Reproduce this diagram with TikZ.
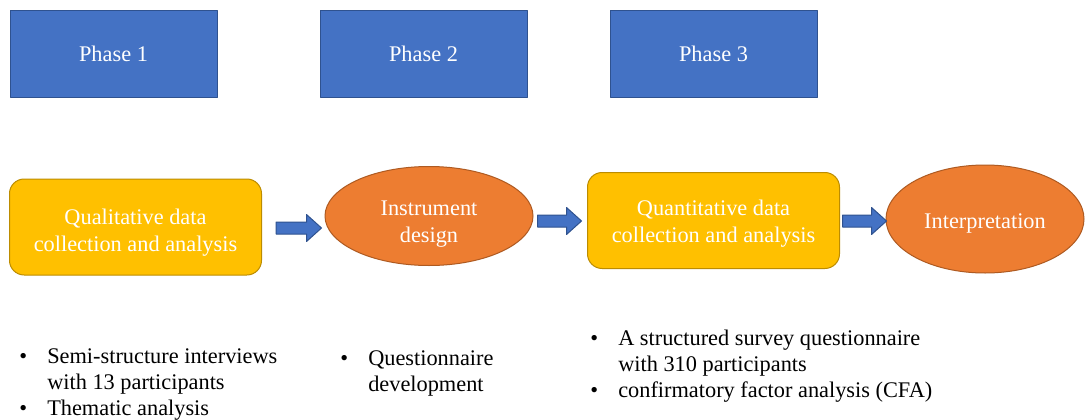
\documentclass[tikz,border=0pt]{standalone}
\usepackage{fontspec}
\setmainfont{Liberation Serif}
\usetikzlibrary{calc,shapes.geometric}

\definecolor{phaseblue}{HTML}{4472C4}
\definecolor{phaseedge}{HTML}{2F528F}
\definecolor{stepyellow}{HTML}{FFC000}
\definecolor{yellowedge}{HTML}{BC8C00}
\definecolor{steporange}{HTML}{ED7D31}
\definecolor{orangeedge}{HTML}{AE5A21}

% fat block arrow from #1 to the tip #2 (both on one level)
\newcommand{\blockarrow}[2]{%
  \draw[barrow] ($(#1)+(0,6)$) -- ($(#2)+(-15,6)$) -- ($(#2)+(-15,13.5)$) -- (#2)
    -- ($(#2)+(-15,-13.5)$) -- ($(#2)+(-15,-6)$) -- ($(#1)+(0,-6)$) -- cycle;}
% step label: first baseline sits #1 above the node centre
\newcommand{\steptext}[2]{%
  \raisebox{#1}[0pt][0pt]{\begin{tabular}[t]{@{}c@{}}#2\end{tabular}}}
\newcommand{\bul}{\makebox[21pt][l]{\textbullet}}

\begin{document}
\begin{tikzpicture}[x=0.75pt,y=0.75pt,line join=round,
  font=\fontsize{16.75}{19.5}\selectfont,
  phase/.style={draw=phaseedge,fill=phaseblue,text=white,line width=0.75pt,
    minimum width=155.25pt,minimum height=65.25pt,inner sep=0pt},
  stepbox/.style={draw=yellowedge,fill=stepyellow,text=white,line width=0.75pt,
    rounded corners=11pt,minimum width=189pt,minimum height=72pt,inner sep=0pt,
    font=\fontsize{16.75}{20.25}\selectfont},
  stepoval/.style={ellipse,draw=orangeedge,fill=steporange,text=white,
    line width=0.75pt,inner sep=0pt,font=\fontsize{16.75}{20.25}\selectfont},
  barrow/.style={draw=phaseedge,fill=phaseblue,line width=0.75pt},
  bullets/.style={anchor=base west,inner sep=0pt,text=black}]
  \fill[white] (0,0) rectangle (1085,419);
  \useasboundingbox (0,0) rectangle (1085,419);

  % ---------- phase headers ----------
  \node[phase] (ph1) at (113.5,365.5) {Phase 1};
  \node[phase] (ph2) at (423.5,365.5) {Phase 2};
  \node[phase] (ph3) at (713.5,365.5) {Phase 3};

  % ---------- process steps ----------
  \node[stepbox] (qual) at (135.5,192)
    {\steptext{2.25pt}{Qualitative data\\collection and analysis}};
  \node[stepoval,minimum width=156pt,minimum height=74.25pt] (instr) at (429,203)
    {\steptext{0.75pt}{Instrument\\design}};
  \node[stepbox] (quant) at (713.5,198.5)
    {\steptext{4.1pt}{Quantitative data\\collection and analysis}};
  \node[stepoval,minimum width=148.5pt,minimum height=81pt] (interp) at (985,200)
    {\steptext{-6.75pt}{Interpretation}};

  % ---------- arrows between steps ----------
  \coordinate (a1s) at ($(qual.east)+(14,-1)$);
  \coordinate (a1e) at ($(a1s -| instr.west)+(-3,0)$);
  \coordinate (a2s) at ($(instr.east)+(4,-5)$);
  \coordinate (a2e) at ($(a2s -| quant.west)+(-5.5,0)$);
  \coordinate (a3s) at ($(quant.east)+(2.5,-0.5)$);
  \coordinate (a3e) at ($(a3s -| interp.west)+(1,0)$);
  \blockarrow{a1s}{a1e}
  \blockarrow{a2s}{a2e}
  \blockarrow{a3s}{a3e}

  % ---------- notes under each phase ----------
  \node[bullets] (n1) at (19,56) {\begin{tabular}[t]{@{}l@{}}
    \bul Semi-structure interviews\\
    \hspace{21pt}with 13 participants\\
    \bul Thematic analysis\end{tabular}};
  \node[bullets] (n2) at (340,54) {\begin{tabular}[t]{@{}l@{}}
    \bul Questionnaire\\
    \hspace{21pt}development\end{tabular}};
  \node[bullets] (n3) at (590,74) {\begin{tabular}[t]{@{}l@{}}
    \bul A structured survey questionnaire\\
    \hspace{21pt}with 310 participants\\
    \bul confirmatory factor analysis (CFA)\end{tabular}};
\end{tikzpicture}
\end{document}
